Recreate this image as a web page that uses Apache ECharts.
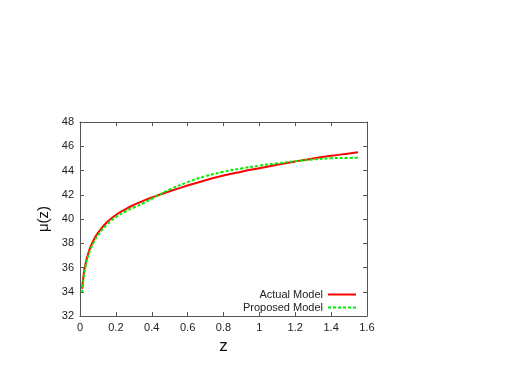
<!DOCTYPE html>
<html>
<head>
<meta charset="utf-8">
<script src="https://cdn.jsdelivr.net/npm/echarts@6/dist/echarts.min.js"></script>
<style>
	html, body { margin: 0; padding: 0; background: #fff; }
	#chart { width: 518px; height: 382px; }
</style>
</head>
<body>
<div id="chart"></div>
<script>
// redshift samples
var zValues = [0.012, 0.02, 0.03, 0.05, 0.075, 0.1, 0.15, 0.2, 0.25, 0.3, 0.35, 0.4,
	0.5, 0.6, 0.7, 0.8, 0.9, 1.0, 1.1, 1.2, 1.3, 1.4, 1.5, 1.55];
// distance modulus, actual model (red)
var actualMu = [34.25, 35.36, 36.24, 37.35, 38.23, 38.85, 39.73, 40.33, 40.78, 41.16, 41.48, 41.77,
	42.29, 42.76, 43.2, 43.58, 43.9, 44.19, 44.47, 44.74, 44.99, 45.21, 45.41, 45.51];
// distance modulus, proposed model (green)
var proposedMu = [33.95, 35.1, 36.04, 37.15, 38.03, 38.65, 39.53, 40.16, 40.59, 40.95, 41.29, 41.67,
	42.43, 43.04, 43.53, 43.89, 44.17, 44.4, 44.59, 44.77, 44.91, 45.01, 45.04, 45.05];
var xTicks = { min: 0, max: 1.6, step: 0.2 };
var yTicks = { min: 32, max: 48, step: 2 };

(function() {
	var myChart = echarts.init(document.getElementById('chart'));
	var font = 'Liberation Sans, Arial, sans-serif';

	function pairs(ys) {
		return zValues.map(function(z, i) { return [z, ys[i]]; });
	}

	// gnuplot style: ticks inside, mirrored on top/right
	function xAx(pos, labels) {
		return {
			type: 'value', position: pos,
			min: xTicks.min, max: xTicks.max, interval: xTicks.step,
			axisLine: { show: true, onZero: false, lineStyle: { color: '#555', width: 1 } },
			axisTick: { show: true, inside: true, length: 4, lineStyle: { color: '#555' } },
			axisLabel: { show: labels, color: '#222', fontSize: 11, fontFamily: font, margin: 6 },
			splitLine: { show: false },
			name: labels ? 'z' : '',
			nameLocation: 'middle', nameGap: 18,
			nameTextStyle: { fontSize: 17, color: '#111', fontFamily: font }
		};
	}
	function yAx(pos, labels) {
		return {
			type: 'value', position: pos,
			min: yTicks.min, max: yTicks.max, interval: yTicks.step,
			axisLine: { show: true, onZero: false, lineStyle: { color: '#555', width: 1 } },
			axisTick: { show: true, inside: true, length: 4, lineStyle: { color: '#555' } },
			axisLabel: { show: labels, color: '#222', fontSize: 11, fontFamily: font, margin: 6 },
			splitLine: { show: false },
			name: labels ? 'μ(z)' : '',
			nameLocation: 'middle', nameGap: 14, nameRotate: 90,
			nameTextStyle: { fontSize: 15, color: '#111', fontFamily: font }
		};
	}

	var option = {
		backgroundColor: '#fff',
		animation: false,
		grid: { left: 80, right: 151, top: 122, bottom: 66 },
		legend: {
			right: 161, top: 289, orient: 'vertical', align: 'right',
			itemWidth: 28, itemHeight: 9, itemGap: 2, padding: 0,
			itemStyle: { opacity: 0 },
			textStyle: { fontSize: 11, lineHeight: 11, color: '#222', fontFamily: font },
			data: ['Actual Model', 'Proposed Model']
		},
		xAxis: [xAx('bottom', true), xAx('top', false)],
		yAxis: [yAx('left', true), yAx('right', false)],
		series: [{
			name: 'Actual Model',
			type: 'line',
			data: pairs(actualMu),
			symbol: 'none',
			smooth: 0.5,
			color: '#ff0000',
			lineStyle: { color: '#ff0000', width: 2 }
		}, {
			name: 'Proposed Model',
			type: 'line',
			data: pairs(proposedMu),
			symbol: 'none',
			smooth: 0.5,
			color: '#00ee00',
			lineStyle: { color: '#00ee00', width: 2, type: [3, 2] }
		}]
	};
	myChart.setOption(option);
})();
</script>
</body>
</html>
